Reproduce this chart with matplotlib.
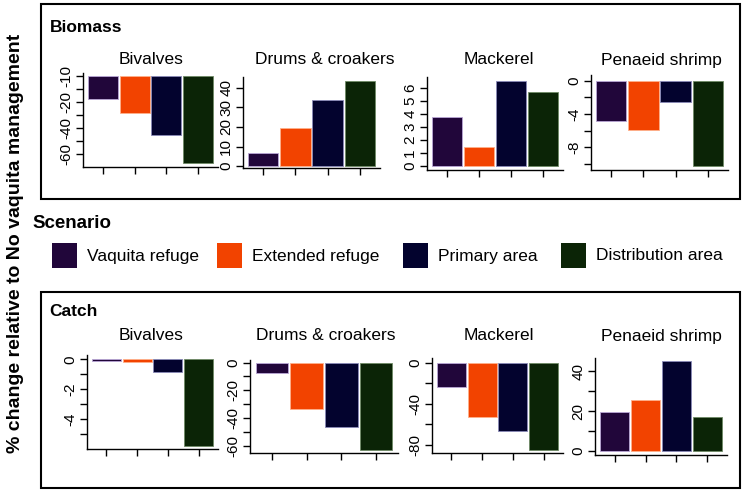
import matplotlib
matplotlib.use("Agg")
import matplotlib.pyplot as plt
from matplotlib.patches import Rectangle

plt.rcParams['font.family'] = ['Liberation Sans', 'DejaVu Sans']

W, H = 745, 492

scenarios = ["Vaquita refuge", "Extended refuge", "Primary area", "Distribution area"]
colors = ["#21063a", "#f24300", "#03032e", "#0b2406"]
edges = ["#b9a6d6", "#ffb08a", "#8a8ab8", "#6f8a66"]

groups = ["Bivalves", "Drums & croakers", "Mackerel", "Penaeid shrimp"]

# % change, biomass
bio_bivalves = [-17.7, -28.5, -45.4, -66.9]
bio_drums = [6.7, 19.5, 33.8, 43.6]
bio_mackerel = [3.8, 1.45, 6.55, 5.7]
bio_shrimp = [-4.85, -5.85, -2.5, -10.2]

# % change, catch
catch_bivalves = [-0.08, -0.2, -0.88, -5.78]
catch_drums = [-7.7, -33.3, -46.5, -62.8]
catch_mackerel = [-23.9, -52.9, -66.8, -84.5]
catch_shrimp = [19.7, 25.7, 45.1, 16.9]

# (values, ylim, tick positions, tick labels as printed in the source figure)
bio_panels = [
    (bio_bivalves, (-70.0, 2.0), [0, -10, -20, -30, -40, -50, -60], ["-10", "", "-20", "", "-40", "", "-60"]),
    (bio_drums, (-1.0, 45.6), [0, 10, 20, 30, 40], ["0", "10", "20", "30", "40"]),
    (bio_mackerel, (-0.3, 6.85), [0, 1, 2, 3, 4, 5, 6], ["0", "1", "2", "3", "4", "5", "6"]),
    (bio_shrimp, (-10.7, 0.68), [0, -2, -4, -6, -8, -10], ["0", "", "-4", "", "-8", ""]),
]
catch_panels = [
    (catch_bivalves, (-6.0, 0.29), [0, -1, -2, -3, -4, -5], ["0", "", "-2", "", "-4", ""]),
    (catch_drums, (-65.2, 1.9), [0, -10, -20, -30, -40, -50, -60], ["0", "", "-20", "", "-40", "", "-60"]),
    (catch_mackerel, (-87.7, 4.5), [0, -20, -40, -60, -80], ["0", "", "-40", "", "-80"]),
    (catch_shrimp, (-2.2, 46.8), [0, 10, 20, 30, 40], ["0", "", "20", "", "40"]),
]

# pixel boxes of the axes: left, right, top, bottom
bio_boxes = [(83, 218, 73, 167), (243, 380, 77, 168), (427, 563, 77, 170), (591, 728, 75, 170)]
catch_boxes = [(87, 218, 355, 449), (250, 398, 360, 453), (432, 563, 358, 453), (595, 727, 358, 455)]
bio_title_x = [151, 325, 499, 661]
catch_title_x = [151, 326, 499, 661]

fig = plt.figure(figsize=(W / 100, H / 100), dpi=100)


def px_axes(l, r, t, b):
    return fig.add_axes([l / W, 1 - b / H, (r - l) / W, (b - t) / H])


def draw_panel(box, panel, title, tx, ty):
    vals, ylim, ticks, labels = panel
    ax = px_axes(*box)
    x = list(range(len(vals)))
    ax.bar(x, vals, width=0.94, color=colors, edgecolor=edges, linewidth=0.6)
    ax.set_xlim(-0.63, 3.63)
    ax.set_ylim(*ylim)
    ax.set_xticks(x)
    ax.set_xticklabels([])
    ax.set_yticks(ticks)
    ax.set_yticklabels(labels)
    for lab in ax.get_yticklabels():
        lab.set_rotation(90)
        lab.set_va("center")
    ax.tick_params(axis="both", direction="out", length=5, width=1, labelsize=11, pad=2)
    ax.spines["top"].set_visible(False)
    ax.spines["right"].set_visible(False)
    for s in ("left", "bottom"):
        ax.spines[s].set_linewidth(1)
    fig.text(tx / W, 1 - ty / H, title, ha="center", va="center", fontsize=12.5)
    return ax


for box, panel, g, tx in zip(bio_boxes, bio_panels, groups, bio_title_x):
    draw_panel(box, panel, g, tx, 60)
for box, panel, g, tx in zip(catch_boxes, catch_panels, groups, catch_title_x):
    draw_panel(box, panel, g, tx, 336)

# frames around the two rows
for top, bot in [(4, 199), (292, 488)]:
    fig.patches.append(Rectangle((41 / W, 1 - bot / H), (740 - 41) / W, (bot - top) / H,
                                 transform=fig.transFigure, fill=False, edgecolor="black", linewidth=1.5))

fig.text(50 / W, 1 - 27 / H, "Biomass", fontsize=12.5, fontweight="bold", va="center")
fig.text(49 / W, 1 - 312 / H, "Catch", fontsize=12.5, fontweight="bold", va="center")

# legend
fig.text(32 / W, 1 - 224 / H, "Scenario", fontsize=13.5, fontweight="bold", va="center")
leg_x = [52, 217, 403, 561]
for lx, name, c in zip(leg_x, scenarios, colors):
    fig.patches.append(Rectangle((lx / W, 1 - 268 / H), 25 / W, 25 / H,
                                 transform=fig.transFigure, facecolor=c, edgecolor="none"))
    fig.text((lx + 35) / W, 1 - 256 / H, name, fontsize=12.5, va="center")

fig.text(16 / W, 1 - 243 / H, "% change relative to No vaquita management", rotation=90,
         fontsize=14, fontweight="bold", ha="center", va="center")

fig.savefig("out.png", dpi=100)
